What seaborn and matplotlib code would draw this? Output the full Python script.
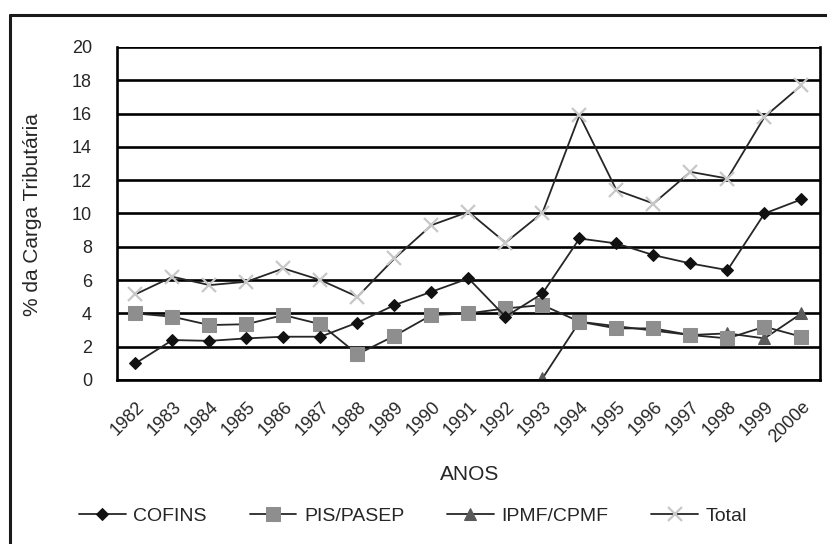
import numpy as np
import pandas as pd
import matplotlib
matplotlib.use("Agg")
import matplotlib.pyplot as plt
import matplotlib.transforms as mtransforms
import seaborn as sns
from matplotlib.lines import Line2D

anos = ['1982', '1983', '1984', '1985', '1986', '1987', '1988', '1989', '1990',
        '1991', '1992', '1993', '1994', '1995', '1996', '1997', '1998', '1999', '2000e']
cofins = [1.0, 2.4, 2.35, 2.5, 2.6, 2.6, 3.45, 4.5, 5.3, 6.1,
          3.8, 5.2, 8.5, 8.2, 7.5, 7.0, 6.6, 10.0, 10.85]
pis_pasep = [4.0, 3.8, 3.3, 3.35, 3.9, 3.35, 1.55, 2.65, 3.9, 4.0,
             4.3, 4.5, 3.5, 3.1, 3.1, 2.7, 2.5, 3.2, 2.6]
ipmf_cpmf = [np.nan] * 11 + [0.1, 3.5, np.nan, np.nan, 2.7, 2.8, 2.5, 4.0]
total = [5.15, 6.2, 5.7, 5.9, 6.7, 6.0, 5.0, 7.3, 9.3, 10.1,
         8.25, 10.05, 15.9, 11.4, 10.6, 12.5, 12.1, 15.8, 17.7]

df = pd.DataFrame({'pos': np.arange(len(anos)), 'COFINS': cofins,
                   'PIS/PASEP': pis_pasep, 'IPMF/CPMF': ipmf_cpmf, 'Total': total})

sns.set_style("white")
plt.rcParams['font.family'] = ['Liberation Sans', 'DejaVu Sans']

fig = plt.figure(figsize=(8.28, 5.44), dpi=100)
ax = fig.add_axes([117 / 828, 1 - 380 / 544, (820 - 117) / 828, (380 - 47) / 544])

LINE = '#262626'
styles = {
    'COFINS': dict(marker='D', ms=6.5, mfc='#111111', mec='#111111'),
    'PIS/PASEP': dict(marker='s', ms=9.5, mfc='#8e8e8e', mec='#8e8e8e'),
    'IPMF/CPMF': dict(marker='^', ms=9, mfc='#5a5a5a', mec='#5a5a5a'),
    'Total': dict(marker='x', ms=10, mfc='#c8c8c8', mec='#c8c8c8', mew=1.6),
}

for col in ['IPMF/CPMF', 'PIS/PASEP', 'COFINS', 'Total']:
    sns.lineplot(data=df, x='pos', y=col, ax=ax, color=LINE, linewidth=1.3,
                 label=col, legend=False, **styles[col])

ax.set_ylim(0, 20)
ax.set_yticks(np.arange(0, 21, 2))
ax.set_xlim(-0.5, len(anos) - 0.5)
ax.set_xticks(np.arange(len(anos)))
ax.set_xticklabels(anos, rotation=45, ha='right', rotation_mode='anchor', fontsize=13)
shift = mtransforms.ScaledTranslation(-8 / 100, 0, fig.dpi_scale_trans)
for lab in ax.get_xticklabels():
    lab.set_transform(lab.get_transform() + shift)
ax.set_xticks(np.arange(len(anos) + 1) - 0.5, minor=True)
ax.tick_params(axis='x', which='major', length=0, pad=13)
ax.tick_params(axis='x', which='minor', length=5, width=1.8, direction='out', color='black')
ax.tick_params(axis='y', length=7, width=1.8, direction='out', color='black',
               labelsize=13, pad=11)
ax.grid(axis='y', color='black', linewidth=1.9)
ax.set_axisbelow(True)
for side in ['left', 'bottom', 'right']:
    ax.spines[side].set_color('black')
    ax.spines[side].set_linewidth(1.9)
ax.spines['top'].set_visible(False)

ax.set_xlabel('')
ax.set_ylabel('')
fig.text(470 / 828, 1 - 474 / 544, 'ANOS', ha='center', va='center', fontsize=15)
fig.text(33 / 828, 1 - 215 / 544, '% da Carga Tributária', ha='center', va='center',
         rotation=90, fontsize=15)

handles, labels = ax.get_legend_handles_labels()
order = ['COFINS', 'PIS/PASEP', 'IPMF/CPMF', 'Total']
hmap = dict(zip(labels, handles))
fig.legend([hmap[k] for k in order], order, loc='center', ncol=4,
           bbox_to_anchor=(413 / 828, 1 - 516 / 544), frameon=False, fontsize=14,
           handlelength=2.4, handletextpad=0.4, columnspacing=2.2)

# outer frame (cropped at right and bottom)
fig.add_artist(Line2D([10 / 828, 1.0], [1 - 15 / 544] * 2, color='#1a1a1a', lw=2.2,
                      transform=fig.transFigure))
fig.add_artist(Line2D([10 / 828] * 2, [0.0, 1 - 15 / 544], color='#1a1a1a', lw=2.2,
                      transform=fig.transFigure))

fig.savefig('out.png', dpi=100, facecolor='white')
